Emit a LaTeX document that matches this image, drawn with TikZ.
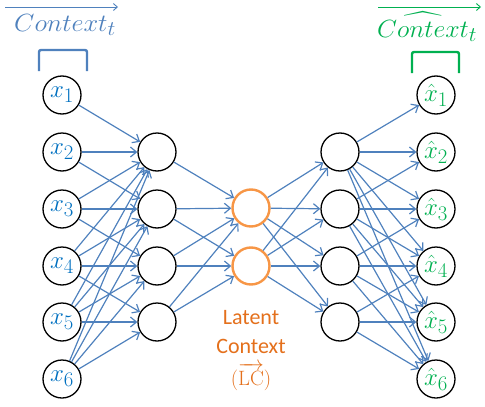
\documentclass[tikz,border=0pt]{standalone}
\usepackage{amsmath}
\usepackage{graphicx}
\usepackage{fontspec}
\newfontfamily\calib{Carlito}
\usetikzlibrary{arrows.meta}
\definecolor{edgeblue}{RGB}{79,129,189}
\definecolor{inblue}{RGB}{0,112,192}
\definecolor{titleblue}{RGB}{79,129,189}
\definecolor{outgreen}{RGB}{0,176,80}
\definecolor{latorange}{RGB}{247,150,70}
\definecolor{txtorange}{RGB}{228,112,28}
\tikzset{
  neuron/.style={circle, draw=black, line width=1.3pt, minimum size=38pt, inner sep=0pt},
  latent/.style={circle, draw=latorange, line width=2.4pt, minimum size=37pt, inner sep=0pt},
  innode/.style={neuron, text=inblue, font=\fontsize{24.88}{28}\selectfont},
  outnode/.style={neuron, text=outgreen, font=\fontsize{24.88}{28}\selectfont},
  conn/.style={draw=edgeblue, line width=1.2pt, -{Straight Barb[length=6pt,width=10pt,line width=1.2pt]}},
  bracket/.style={line width=2.4pt, rounded corners=2pt},
  title/.style={font=\fontsize{24.88}{28}\selectfont, inner sep=0pt},
  titlearrow/.style={line width=0.9pt, -{Straight Barb[length=4pt,width=7pt,line width=0.9pt]}},
}
\begin{document}
\begin{tikzpicture}[x=1pt,y=-1pt]
\useasboundingbox (0,0) rectangle (485,407);
% input and output nodes
\foreach \i/\y in {1/95,2/152,3/209,4/266,5/322,6/379}{
  \node[innode] (in\i) at (62,\y) {$x_{\i}$};
  \node[outnode] (o\i) at (436,\y) {$\hat{x}_{\i}$};
}
\foreach \j/\y in {1/152,2/209,3/266,4/322}{
  \node[neuron] (h\j) at (157,\y) {};
  \node[neuron] (r\j) at (340,\y) {};
}
\node[latent] (l1) at (251,208) {};
\node[latent] (l2) at (251,266) {};
% edges
\foreach \i in {1,...,6}{
  \foreach \j in {1,...,4}{
    \ifnum\j>\i\relax\else
      \draw[conn] (in\i) -- (h\j);
      \draw[conn] (r\j) -- (o\i);
    \fi
  }
}
\draw[conn] (h1) -- (l1);
\foreach \j in {2,3,4}{
  \draw[conn] (h\j) -- (l1);
  \draw[conn] (h\j) -- (l2);
}
\foreach \j in {1,...,4}{
  \draw[conn] (l1) -- (r\j);
  \draw[conn] (l2) -- (r\j);
}
% latent label
\node[text=txtorange, font=\calib\fontsize{22}{26}\selectfont, anchor=base, inner sep=0pt] (lt1) at (251,324) {Latent};
\node[text=txtorange, font=\calib\fontsize{22}{26}\selectfont, anchor=base, inner sep=0pt] (lt2) at (251,353) {Context};
\node[text=txtorange, font=\fontsize{20.74}{24}\selectfont, anchor=base, inner sep=0pt] (lt3) at (251,385) {$(\overrightarrow{\mathrm{LC}})$};
% titles
\node[title, text=titleblue, anchor=base west] (tl) at (14,31) {\scalebox{1.06}[1]{$Context_t$}};
\node[title, text=outgreen, anchor=base west] (tr) at (377,37) {\scalebox{1.04}[1]{$\widehat{Context}_t$}};
\coordinate (tla) at (5,7);
\coordinate (tlb) at (118,7);
\coordinate (tra) at (378,7);
\coordinate (trb) at (481,7);
\draw[titlearrow, draw=titleblue] (tla) -- (tlb);
\draw[titlearrow, draw=outgreen] (tra) -- (trb);
% brackets
\draw[bracket, draw=titleblue] (39,71) -- (39,50) -- (87,50) -- (87,71);
\draw[bracket, draw=outgreen] (412,73) -- (412,52) -- (459,52) -- (459,73);
\end{tikzpicture}
\end{document}
